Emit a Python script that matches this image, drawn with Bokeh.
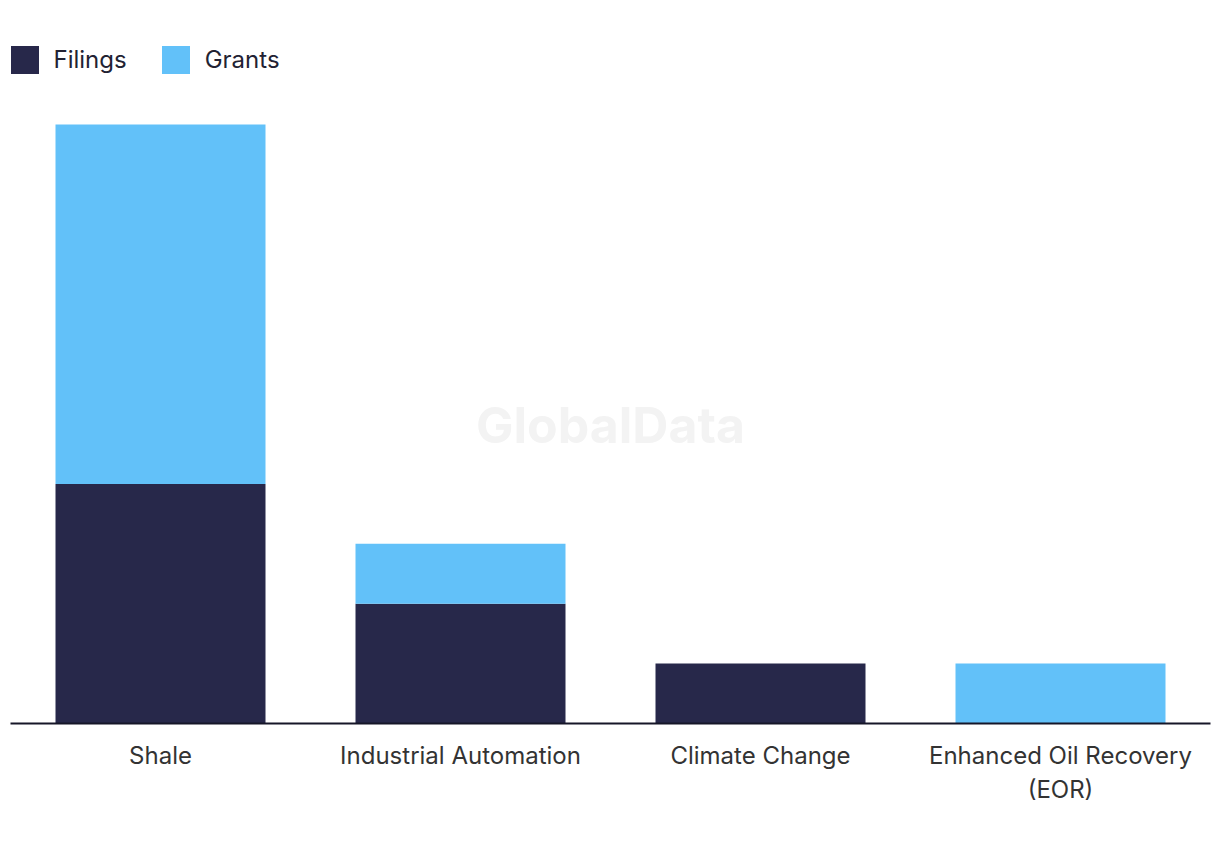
from bokeh.plotting import figure
from bokeh.models import FactorRange, Range1d, Legend, LegendItem, Label
from bokeh.embed import file_html
from bokeh.resources import INLINE

categories = ["Shale", "Industrial Automation", "Climate Change", "Enhanced Oil Recovery\n(EOR)"]
filings = [4, 2, 1, 0]
grants = [6, 1, 0, 1]
series = ["Filings", "Grants"]
colors = ["#27284a", "#62c1f9"]

FONT = "Inter"

p = figure(
    width=1212, height=838,
    x_range=FactorRange(*categories, range_padding=0),
    y_range=Range1d(0, 11.67),
    output_backend="svg", toolbar_location=None,
    min_border_left=10, min_border_right=2, min_border_top=24, min_border_bottom=115,
)
p.outline_line_color = None
p.background_fill_color = "white"
p.border_fill_color = "white"
p.xgrid.visible = False
p.ygrid.visible = False
p.yaxis.visible = False

src = dict(x=categories, Filings=filings, Grants=grants)
renderers = p.vbar_stack(series, x="x", width=0.7, color=colors, line_color=None, source=src)

wm = Label(x=600, y=299, x_units="screen", y_units="screen", text="GlobalData",
           text_font=FONT, text_font_style="bold", text_font_size="50px",
           text_color="#f3f3f3", text_align="center", text_baseline="middle")
p.add_layout(wm)

xa = p.xaxis[0]
xa.axis_line_color = "#161628"
xa.axis_line_width = 2
xa.major_tick_line_color = None
xa.minor_tick_line_color = None
xa.major_label_text_font = FONT
xa.major_label_text_font_size = "24px"
xa.major_label_text_color = "#333333"
xa.major_label_standoff = 11

legend = Legend(
    items=[LegendItem(label=s, renderers=[r]) for s, r in zip(series, renderers)],
    orientation="horizontal", location=(-3.5, 646.5),
    margin=0, padding=0, spacing=31,
    glyph_width=35, glyph_height=35, label_height=35, label_standoff=12,
    label_text_font=FONT, label_text_font_size="24px", label_text_color="#222233",
    border_line_color=None, background_fill_alpha=0,
)
p.add_layout(legend)

open("out.html", "w").write(file_html(p, INLINE))
